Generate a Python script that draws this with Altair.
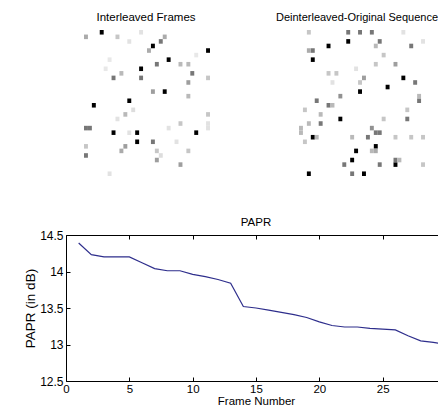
import altair as alt
import pandas as pd

FONT = "Liberation Sans"

# ---- PAPR line data ----
frames = list(range(1, 31))
papr = [14.39, 14.23, 14.20, 14.20, 14.20, 14.12, 14.04, 14.01, 14.01, 13.96,
        13.93, 13.89, 13.84, 13.52, 13.50, 13.47, 13.44, 13.41, 13.37, 13.31,
        13.26, 13.24, 13.24, 13.22, 13.21, 13.20, 13.12, 13.05, 13.03, 13.00]
x_ticks = [0, 5, 10, 15, 20, 25, 30]
y_ticks = [12.5, 13, 13.5, 14, 14.5]

# ---- Interleaved frames (row, col, intensity) ----
h1_rows = [0, 3, 4, 6, 8, 13, 15, 16, 22, 22, 22, 24,
           2, 7, 9, 10, 10, 21, 21, 24, 27,
           1, 4, 11, 1, 13, 14, 7, 7, 9, 10, 18, 20, 25, 26, 25, 26, 28, 26, 29, 1, 18,
           2, 0, 8, 6, 17, 19, 20, 21, 21, 27, 31, 24, 22, 5]
h1_cols = [4, 17, 31, 21, 14, 20, 11, 2, 7, 13, 28, 13,
           19, 18, 27, 7, 14, 0, 1, 17, 0,
           20, 16, 26, 0, 17, 26, 24, 26, 9, 31, 10, 24, 10, 9, 0, 18, 18, 26, 24, 8, 31,
           11, 14, 5, 6, 12, 8, 31, 21, 31, 19, 6, 23, 11, 28]
h1_vals = [1, 1, 1, 1, 1, 1, 1, 1, 1, 1, 1, 1,
           0.5, 0.5, 0.5, 0.5, 0.5, 0.5, 0.5, 0.5, 0.5,
           0.3, 0.3, 0.35, 0.3, 0.35, 0.25, 0.25, 0.25, 0.25, 0.2, 0.25, 0.2, 0.35, 0.3,
           0.2, 0.2, 0.35, 0.2, 0.35, 0.2, 0.2,
           0.1, 0.1, 0.08, 0.08, 0.12, 0.1, 0.1, 0.1, 0.1, 0.12, 0.1, 0.1, 0.1, 0.08]

# ---- Deinterleaved original sequence (row, col, intensity) ----
h2_rows = [2, 3, 6, 10, 12, 13, 19, 23, 25, 26, 28, 29, 31, 31,
           0, 0, 0, 4, 2, 3, 11, 15, 15, 16, 20, 19, 22, 22, 23, 28, 29, 29, 31,
           4, 3, 7, 10, 14, 16, 14, 18, 20, 21, 22, 19, 17, 21, 23, 23, 24, 23, 23, 23,
           26, 26, 28, 29, 0, 5, 7, 9, 9, 11, 17,
           0, 2, 11, 8]
h2_cols = [12, 7, 3, 26, 22, 15, 10, 3, 19, 14, 13, 24, 2, 16,
           12, 15, 18, 3, 20, 28, 29, 4, 30, 7, 5, 27, 19, 20, 17, 24, 11, 20, 13,
           2, 19, 24, 16, 10, 8, 30, 5, 2, 0, 0, 21, 27, 18, 13, 4, 1, 24, 28, 31,
           18, 19, 25, 31, 2, 21, 19, 7, 9, 15, 1,
           26, 31, 8, 14]
h2_vals = [1, 1, 1, 1, 1, 1, 1, 1, 1, 1, 1, 1, 1, 1,
           0.5, 0.5, 0.5, 0.5, 0.5, 0.5, 0.5, 0.5, 0.5, 0.5, 0.5, 0.5, 0.5, 0.5, 0.5,
           0.5, 0.5, 0.5, 0.5,
           0.3, 0.25, 0.35, 0.35, 0.4, 0.25, 0.25, 0.25, 0.25, 0.25, 0.25, 0.2, 0.2, 0.4,
           0.25, 0.25, 0.2, 0.2, 0.2, 0.2,
           0.25, 0.3, 0.25, 0.2, 0.2, 0.2, 0.2, 0.2, 0.2, 0.2, 0.2,
           0.1, 0.1, 0.1, 0.1]


def heat_df(rows, cols, vals):
    df = pd.DataFrame({"row": rows, "col": cols, "v": vals})
    df["row2"] = df["row"] + 1
    df["col2"] = df["col"] + 1
    return df


gray = alt.Color("v:Q", scale=alt.Scale(domain=[0, 1], range=["#ffffff", "#000000"]),
                 legend=None)


def heat(df, title, width, xdomain, dx, fs):
    return alt.Chart(df).mark_rect(strokeWidth=0).encode(
        x=alt.X("col:Q", scale=alt.Scale(domain=xdomain, nice=False, zero=False), axis=None),
        x2="col2",
        y=alt.Y("row:Q", scale=alt.Scale(domain=[0, 32], reverse=True, nice=False, zero=False),
                axis=None),
        y2="row2",
        color=gray,
    ).properties(
        width=width, height=146,
        title=alt.TitleParams(title, fontSize=fs, font=FONT, fontWeight="normal",
                              offset=7, dx=dx, color="black"),
        view=alt.ViewBackground(stroke="transparent"),
    )


h1 = heat(heat_df(h1_rows, h1_cols, h1_vals), "Interleaved Frames", 144, [-4.57, 32], 8, 11.5)
h2 = heat(heat_df(h2_rows, h2_cols, h2_vals), "Deinterleaved-Original Sequence", 126, [0, 32], -5, 11)

line_df = pd.DataFrame({"frame": frames, "papr": papr})
xs = alt.Scale(domain=[0, 30], nice=False, zero=False)
ys = alt.Scale(domain=[12.5, 14.5], nice=False, zero=False)

common = dict(tickSize=4, offset=-4, domain=False, grid=False, tickColor="black",
              labelFlush=False)

main = alt.Chart(line_df).mark_line(color="#2e2e8c", strokeWidth=1.2).encode(
    x=alt.X("frame:Q", scale=xs,
            axis=alt.Axis(values=x_ticks, orient="bottom", labelPadding=2,
                          title="Frame Number", titlePadding=1,
                          labelFont=FONT, titleFont=FONT, labelFontSize=11.5, titleFontSize=11.5,
                          titleFontWeight="normal", labelColor="black", titleColor="black",
                          **common)),
    y=alt.Y("papr:Q", scale=ys,
            axis=alt.Axis(values=y_ticks, orient="left", labelPadding=3,
                          labelExpr="datum.value",
                          title="PAPR (in dB)", titlePadding=2,
                          labelFont=FONT, titleFont=FONT, labelFontSize=12, titleFontSize=13.5,
                          titleFontWeight="normal", labelColor="black", titleColor="black",
                          **common)),
)

ghost = alt.Chart(line_df).mark_line(opacity=0).encode(
    x=alt.X("frame:Q", scale=xs,
            axis=alt.Axis(values=x_ticks, orient="top", labels=False, title=None, **common)),
    y=alt.Y("papr:Q", scale=ys,
            axis=alt.Axis(values=y_ticks, orient="right", labels=False, title=None, **common)),
)

papr_chart = alt.layer(main, ghost).resolve_axis(x="independent", y="independent").properties(
    width=380, height=146,
    title=alt.TitleParams("PAPR", fontSize=11.5, font=FONT, fontWeight="normal", offset=1,
                          color="black"),
)

top = alt.hconcat(h1, h2, spacing=64)

chart = alt.vconcat(top, papr_chart, spacing=39).properties(
    autosize=alt.AutoSizeParams(type="none"),
    padding={"left": 58, "top": 22, "right": 372, "bottom": 376},
    background="white",
).configure_view(stroke="black", strokeWidth=1)

chart.save("out.html", embed_options={"renderer": "svg", "actions": False})
